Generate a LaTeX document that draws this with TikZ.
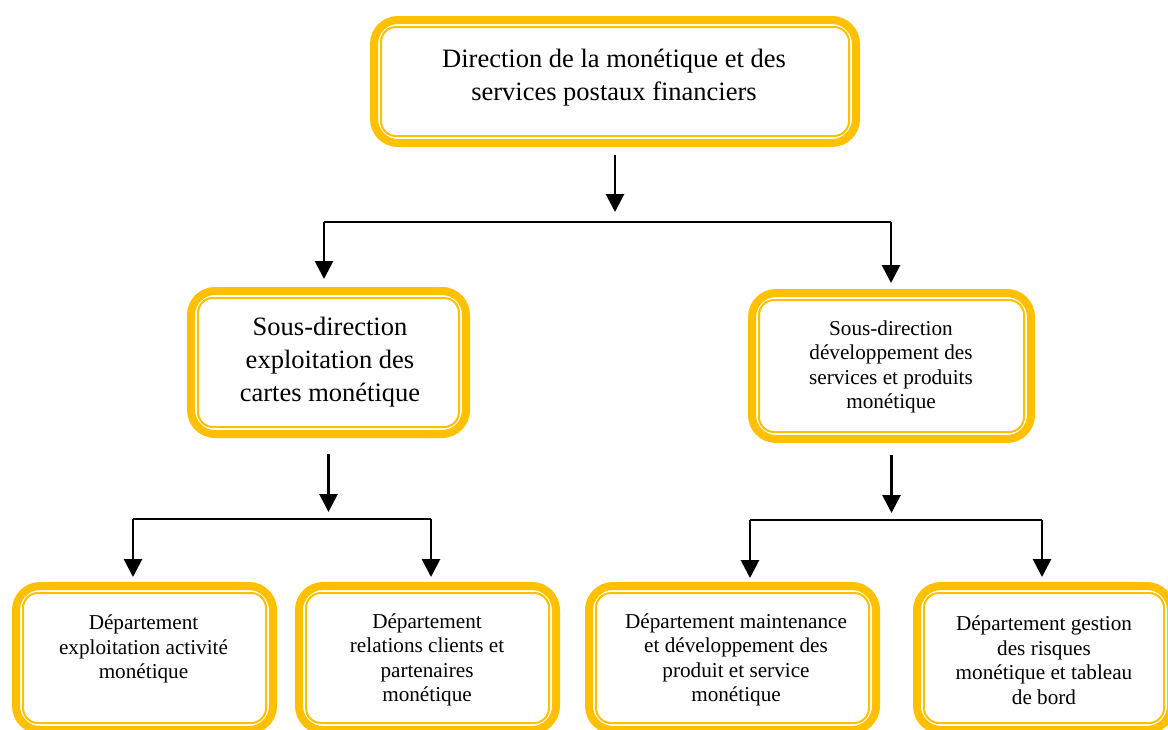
\documentclass[tikz,border=0pt]{standalone}
\usepackage{fontspec}
\setmainfont{Liberation Serif}
\usetikzlibrary{arrows.meta}
\definecolor{gold}{HTML}{FFC000}
\begin{document}
\begin{tikzpicture}[x=1pt,y=-1pt,
  frame/.style={draw=gold, line width=8pt, rounded corners=24pt, inner sep=0pt, fill=white},
  innerline/.style={draw=gold, line width=2pt, rounded corners=15pt},
  big/.style={font=\fontsize{26.5}{33}\selectfont, align=center, inner sep=0pt},
  mid/.style={font=\fontsize{21.2}{24.5}\selectfont, align=center, inner sep=0pt},
  arr/.style={line width=2.8pt, -{Triangle[length=18pt,width=18pt]}},
  bus/.style={line width=1.5pt}]
\useasboundingbox (0,0) rectangle (1168,729);
\clip (0,0) rectangle (1168,729);

% boxes (outer gold frame)
\node[frame, minimum width=482pt, minimum height=123pt] (top) at (615,81.5) {};
\node[frame, minimum width=275pt, minimum height=143pt] (ml) at (328.5,362.5) {};
\node[frame, minimum width=279pt, minimum height=146pt] (mr) at (891.5,366) {};
\node[frame, minimum width=257pt, minimum height=144pt] (b1) at (144.5,658) {};
\node[frame, minimum width=257pt, minimum height=144pt] (b2) at (427.5,658) {};
\node[frame, minimum width=287pt, minimum height=144pt] (b3) at (732.5,658) {};
\node[frame, minimum width=254pt, minimum height=144pt] (b4) at (1044,658) {};

% thin inner line of each frame
\foreach \n in {top,ml,mr,b1,b2,b3,b4}
  \draw[innerline] ([shift={(11pt,-11pt)}]\n.north west) rectangle ([shift={(-11pt,11pt)}]\n.south east);

% texts
\node[big] (ttop) at (614,77.5) {Direction de la monétique et des\\services postaux financiers};
\node[big] (tml) at (330,362) {Sous-direction\\exploitation des\\cartes monétique};
\node[mid] (tmr) at (891,367) {Sous-direction\\développement des\\services et produits\\monétique};
\node[mid] (tb1) at (143.5,649) {Département\\exploitation activité\\monétique};
\node[mid] (tb2) at (427,660) {Département\\relations clients et\\partenaires\\monétique};
\node[mid] (tb3) at (736,660) {Département maintenance\\et développement des\\produit et service\\monétique};
\node[mid] (tb4) at (1044,660) {Département gestion\\des risques\\monétique et tableau\\de bord};

% first level connectors
\coordinate (j0L) at (324,222);
\coordinate (j0R) at (891,222);
\draw[bus] (j0L) -- (j0R);
\draw[arr, shorten <=8pt, shorten >=10pt] (top.south) -- (top.south |- j0L);
\draw[arr, shorten >=8pt] (j0L) -- (j0L |- ml.north);
\draw[arr, shorten >=6pt] (j0R) -- (j0R |- mr.north);

% second level, left branch
\coordinate (j1L) at (133,519);
\coordinate (j1R) at (431,519);
\draw[bus] (j1L) -- (j1R);
\draw[arr, shorten <=16pt, shorten >=7pt] (ml.south) -- (ml.south |- j1L);
\draw[arr, shorten >=5pt] (j1L) -- (j1L |- b1.north);
\draw[arr, shorten >=5pt] (j1R) -- (j1R |- b2.north);

% second level, right branch
\coordinate (j2L) at (750,520);
\coordinate (j2R) at (1042,520);
\draw[bus] (j2L) -- (j2R);
\draw[arr, shorten <=12pt, shorten >=7pt] (mr.south) -- (mr.south |- j2L);
\draw[arr, shorten >=4pt] (j2L) -- (j2L |- b3.north);
\draw[arr, shorten >=5pt] (j2R) -- (j2R |- b4.north);
\end{tikzpicture}
\end{document}
